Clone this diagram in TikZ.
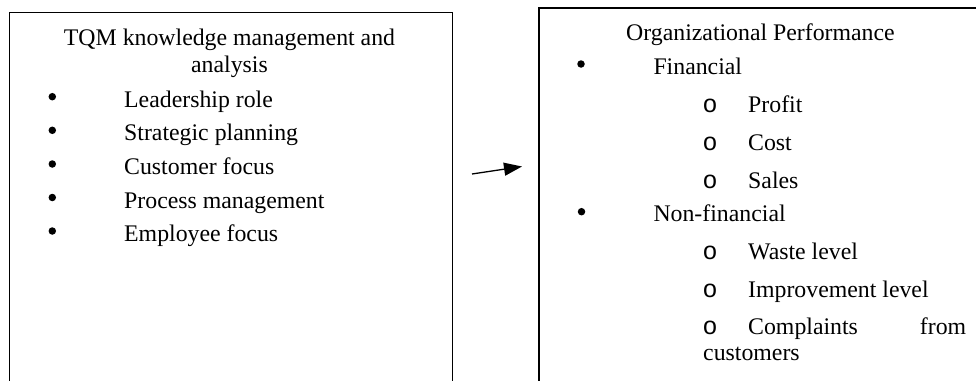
\documentclass[tikz,border=0pt]{standalone}
\usepackage{fontspec}
\setmainfont{Liberation Serif}
\newfontfamily\bulletfont{Liberation Sans}
\usetikzlibrary{arrows.meta}
\begin{document}
\begin{tikzpicture}[x=1pt,y=-1pt,
  txt/.style={font=\fontsize{23.8}{28}\selectfont, inner sep=0pt, anchor=base west},
  ctxt/.style={txt, anchor=base},
  border/.style={draw=black, line width=1.2pt, rectangle, inner sep=0pt, anchor=north west},
  dot/.style={circle, fill=black, inner sep=0pt, minimum size=7.5pt},
  obul/.style={font=\bulletfont\fontsize{25}{28}\selectfont, inner sep=0pt, anchor=base west},
  conn/.style={line width=1.3pt, -{Triangle[length=18pt,width=13pt]}}]
\useasboundingbox (0,0) rectangle (976,380);
\clip (0,0) rectangle (976,380);
% boxes
\node[border, minimum width=442.5pt, minimum height=420pt] (left) at (9,11.7) {};
\node[border, minimum width=470pt, minimum height=420pt] (right) at (538.3,7.3) {};
% left box text
\node[ctxt] (t1) at (229.5,45) {TQM knowledge management and};
\node[ctxt] (t2) at (229.5,72.5) {analysis};
\node[dot] (lb1) at (52.3,96.7) {};
\node[txt] (l1) at (124,107) {Leadership role};
\node[dot] (lb2) at (52.3,130.3) {};
\node[txt] (l2) at (124,140.5) {Strategic planning};
\node[dot] (lb3) at (52.3,164) {};
\node[txt] (l3) at (124,174) {Customer focus};
\node[dot] (lb4) at (52.3,197.5) {};
\node[txt] (l4) at (124,208) {Process management};
\node[dot] (lb5) at (52.3,231) {};
\node[txt] (l5) at (124,241.5) {Employee focus};
% right box text
\node[txt] (r0) at (626,40.5) {Organizational Performance};
\node[dot] (rb1) at (581,64) {};
\node[txt] (r1) at (653.3,74.5) {Financial};
\node[obul] (o1) at (703,112.7) {o};
\node[txt] (r11) at (748,112.7) {Profit};
\node[obul] (o2) at (703,150.7) {o};
\node[txt] (r12) at (748,150.7) {Cost};
\node[obul] (o3) at (703,188.3) {o};
\node[txt] (r13) at (748,188.3) {Sales};
\node[dot] (rb2) at (581.5,211.7) {};
\node[txt] (r2) at (653.3,221.7) {Non-financial};
\node[obul] (o4) at (703,259.3) {o};
\node[txt] (r21) at (748,259.3) {Waste level};
\node[obul] (o5) at (703,297.4) {o};
\node[txt] (r22) at (748,297.4) {Improvement level};
\node[obul] (o6) at (703,334.2) {o};
\node[txt] (r23) at (748,334.2) {\makebox[218pt][s]{Complaints from}};
\node[txt] (r24) at (703,360.5) {customers};
% arrow
\coordinate (a0) at (472,174);
\coordinate (a1) at (522,166.5);
\draw[conn] (a0) -- (a1);
\end{tikzpicture}
\end{document}
